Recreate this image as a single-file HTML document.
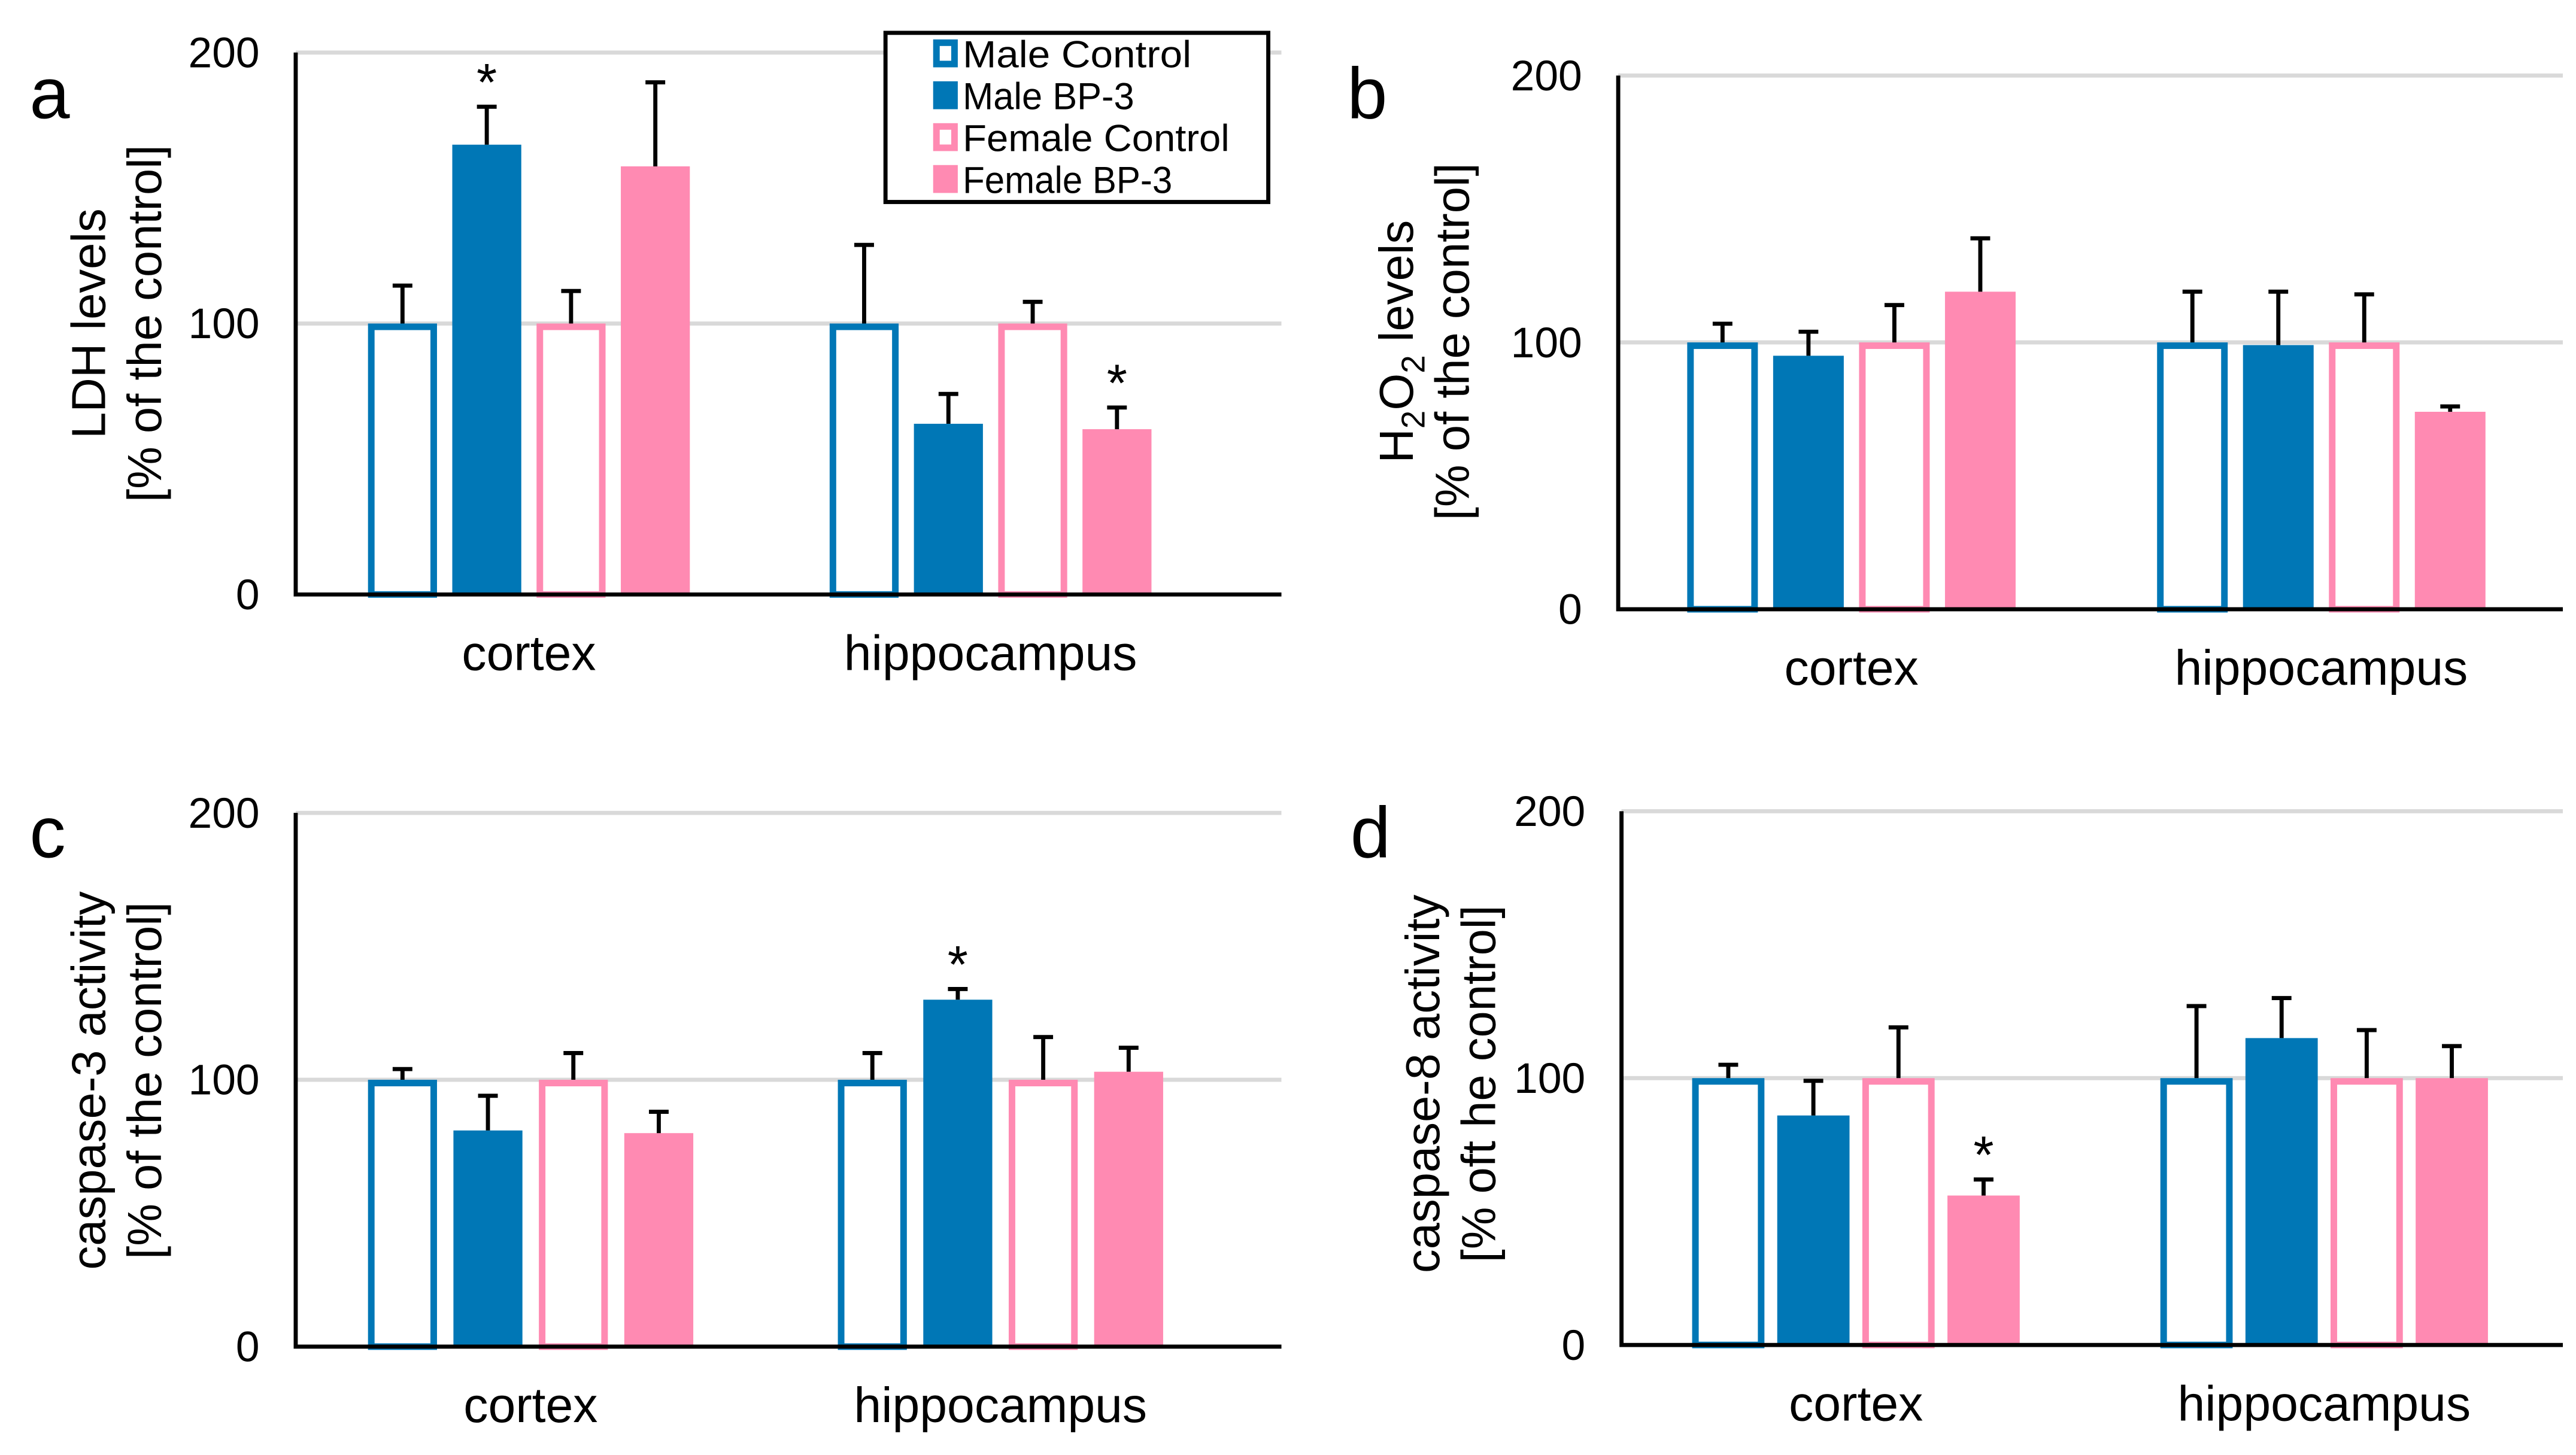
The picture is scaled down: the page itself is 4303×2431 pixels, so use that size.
<!DOCTYPE html>
<html><head><meta charset="utf-8"><style>
html,body{margin:0;padding:0;background:#fff}
svg{display:block}
text{font-family:"Liberation Sans",Arial,sans-serif}
</style></head><body>
<svg id="fig" width="4303" height="2431" viewBox="0 0 1568 886" preserveAspectRatio="none" xmlns="http://www.w3.org/2000/svg"></svg>
<script>
const categories = ["cortex", "hippocampus"];
const seriesNames = ["Male Control", "Male BP-3", "Female Control", "Female BP-3"];
const yTicks = [0, 100, 200];
const aValues = [[100,166,100,158],[100,63,100,61]];
const aErr = [[14,14,12,31],[29,11,8,8]];
const aStars = [[0,1,0,0],[0,0,0,1]];
const bValues = [[100,95,100,119],[100,99,100,74]];
const bErr = [[7,9,14,20],[19,20,18,2]];
const bStars = [[0,0,0,0],[0,0,0,0]];
const cValues = [[100,81,100,80],[100,130,100,103]];
const cErr = [[4,13,10,8],[10,4,16,9]];
const cStars = [[0,0,0,0],[0,1,0,0]];
const dValues = [[100,86,100,56],[100,115,100,100]];
const dErr = [[5,13,19,6],[27,15,18,12]];
const dStars = [[0,0,0,1],[0,0,0,0]];

const NS = "http://www.w3.org/2000/svg";
const svg = document.getElementById("fig");
const BLUE = "#0077b6", PINK = "#ff8ab2";
function el(tag, attrs, parent) {
  const e = document.createElementNS(NS, tag);
  for (const k in attrs) e.setAttribute(k, attrs[k]);
  (parent || svg).appendChild(e);
  return e;
}
const panels = [
  {id:"a", v:aValues, e:aErr, s:aStars, x0:180, x1:780, yTop:32, yBot:362, groupStart:[224,505], step:51.3, bw:42, letter:[18,72], yl:["LDH levels","[% of the control]"], ylx:[64,98], ylc:197, catY:408},
  {id:"b", v:bValues, e:bErr, s:bStars, x0:985, x1:1560, yTop:46, yBot:371, groupStart:[1027,1313], step:52.3, bw:43, letter:[820,72], yl:["H2O2","[% of the control]"], ylx:[860,894], ylc:208, catY:417},
  {id:"c", v:cValues, e:cErr, s:cStars, x0:180, x1:780, yTop:495, yBot:820, groupStart:[224,510], step:52, bw:42, letter:[18,522], yl:["caspase-3 activity","[% of  the control]"], ylx:[64,98], ylc:658, catY:866},
  {id:"d", v:dValues, e:dErr, s:dStars, x0:987, x1:1560, yTop:494, yBot:819, groupStart:[1030,1315], step:51.8, bw:44, letter:[822,522], yl:["caspase-8 activity","[% oft he control]"], ylx:[876,910], ylc:660, catY:865}
];
panels.forEach(p => {
  const g = el("g", {});
  
  
  const y = v => p.yBot - (v / 200) * (p.yBot - p.yTop);
  yTicks.forEach(t => {
    if (t > 0) {
      const gl = el("line", {x1:p.x0, x2:p.x1, y1:y(t), y2:y(t), stroke:"#d9d9d9", "stroke-width":2.5}, g);
      
      
    }
    const tl = el("text", {x:p.x0 - 22, y:y(t) + 9, "text-anchor":"end", "font-size":26}, g);
    tl.textContent = t;
    
    
  });
  const lt = el("text", {x:p.letter[0], y:p.letter[1], "font-size":44}, g);
  lt.textContent = p.id;
  
  
  const yt = el("text", {transform:`translate(${p.ylx[0]},${p.ylc}) rotate(-90)`, "text-anchor":"middle", "font-size":29}, g);
  
  
  if (p.id === "b") {
    yt.innerHTML = 'H<tspan font-size="20" dy="7">2</tspan><tspan dy="-7">O</tspan><tspan font-size="20" dy="7">2</tspan><tspan dy="-7"> levels</tspan>';
  } else yt.textContent = p.yl[0];
  const yt2 = el("text", {transform:`translate(${p.ylx[1]},${p.ylc}) rotate(-90)`, "text-anchor":"middle", "font-size":29}, g);
  yt2.textContent = p.yl[1];
  
  
  categories.forEach((c, ci) => {
    p.v[ci].forEach((val, si) => {
      const bx = p.groupStart[ci] + si * p.step;
      const col = si < 2 ? BLUE : PINK;
      const hollow = si % 2 === 0;
      let r;
      if (hollow) r = el("rect", {x:bx + 2, y:y(val) + 2, width:p.bw - 4, height:y(0) - y(val) - 2, fill:"#fff", stroke:col, "stroke-width":4}, g);
      else r = el("rect", {x:bx, y:y(val), width:p.bw, height:y(0) - y(val), fill:col}, g);
      
      
      const cx = bx + p.bw / 2;
      const top = y(val + p.e[ci][si]);
      const eb = el("path", {d:`M${cx},${y(val)}V${top}M${cx - 6},${top}H${cx + 6}`, stroke:"#000", "stroke-width":2.5, fill:"none"}, g);
      
      
      if (p.s[ci][si]) {
        const st = el("text", {x:cx, y:top - 4, "text-anchor":"middle", "font-size":32}, g);
        st.textContent = "*";
        
        
      }
    });
    const gx = p.groupStart[ci] + (3 * p.step + p.bw) / 2;
    const cl = el("text", {x:gx, y:p.catY, "text-anchor":"middle", "font-size":30}, g);
    cl.textContent = c;
    
    
  });
  const ax = el("path", {d:`M${p.x0},${p.yTop}V${p.yBot}H${p.x1}`, stroke:"#000", "stroke-width":2.5, fill:"none"}, g);
  
  
});
const lg = el("g", {});


const lb = el("rect", {x:539, y:20, width:233, height:103, fill:"#fff", stroke:"#000", "stroke-width":2.5}, lg);


seriesNames.forEach((n, i) => {
  const col = i < 2 ? BLUE : PINK;
  const ly = 23 + i * 25.5;
  let sw;
  if (i % 2 === 0) sw = el("rect", {x:570, y:ly + 3, width:11, height:13, fill:"#fff", stroke:col, "stroke-width":4}, lg);
  else sw = el("rect", {x:568, y:ly + 1, width:15, height:17, fill:col}, lg);
  
  
  const t = el("text", {x:586, y:ly + 18, "font-size":23, textLength: n.length * 11.6, lengthAdjust:"spacingAndGlyphs"}, lg);
  t.textContent = n;
  
  
});
</script>
</body></html>
